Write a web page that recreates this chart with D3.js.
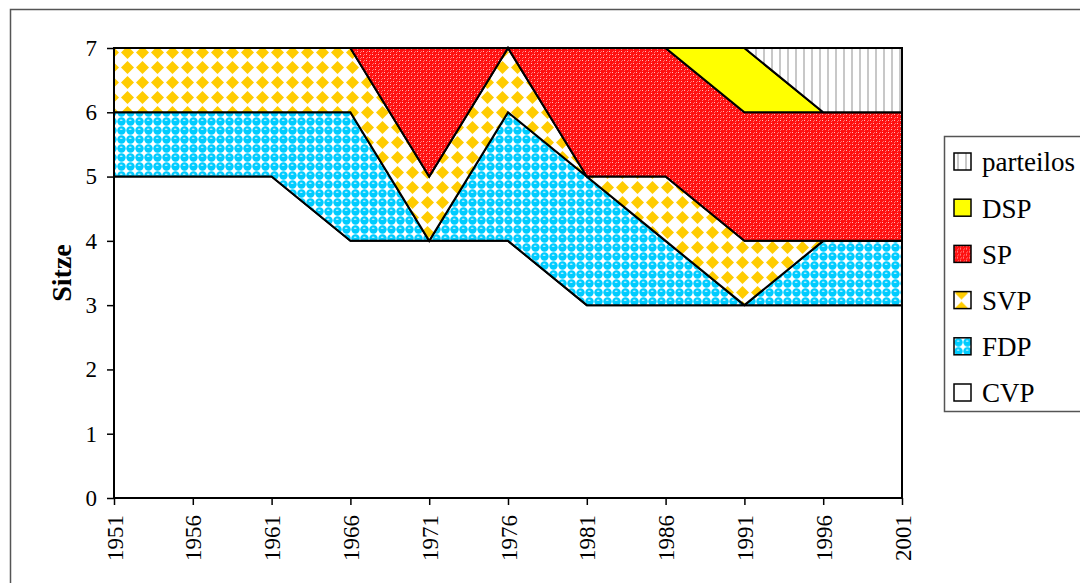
<!DOCTYPE html>
<html>
<head>
<meta charset="utf-8">
<script src="https://cdn.jsdelivr.net/npm/d3@7"></script>
<style>
  body { margin: 0; background: #fff; }
  svg { display: block; font-family: "Liberation Serif", "Times New Roman", serif; }
</style>
</head>
<body>
<script>
// election years and seats per party (Sitze)
var years = [1951, 1956, 1961, 1966, 1971, 1976, 1981, 1986, 1991, 1996, 2001];
var cvp = [5, 5, 5, 4, 4, 4, 3, 3, 3, 3, 3];
var fdp = [1, 1, 1, 2, 0, 2, 2, 1, 0, 1, 1];
var svp = [1, 1, 1, 1, 1, 1, 0, 1, 1, 0, 0];
var sp = [0, 0, 0, 0, 2, 0, 2, 2, 2, 2, 2];
var dsp = [0, 0, 0, 0, 0, 0, 0, 0, 1, 0, 0];
var parteilos = [0, 0, 0, 0, 0, 0, 0, 0, 0, 1, 1];
var keys = ["CVP", "FDP", "SVP", "SP", "DSP", "parteilos"];
var yTicks = [0, 1, 2, 3, 4, 5, 6, 7];

window.onload = drawChart();

function drawChart(){
    var width = 1080, height = 583;
    var left = 114, right = 902, top = 48, bottom = 498;

    var svg = d3.select("body").append("svg")
        .attr("width", width)
        .attr("height", height);

    // fill patterns
    var defs = svg.append("defs");

    // SVP: orange diamonds
    var pSvp = defs.append("pattern").attr("id", "pSvp")
        .attr("patternUnits", "userSpaceOnUse")
        .attr("width", 15).attr("height", 15);
    pSvp.append("rect").attr("width", 15).attr("height", 15).attr("fill", "#fff");
    pSvp.append("path").attr("d", "M7.5,1 L14,7.5 L7.5,14 L1,7.5Z").attr("fill", "#ffcc00");

    // FDP: cyan bubbles
    var pFdp = defs.append("pattern").attr("id", "pFdp")
        .attr("patternUnits", "userSpaceOnUse")
        .attr("width", 9).attr("height", 9);
    pFdp.append("rect").attr("width", 9).attr("height", 9).attr("fill", "#fff");
    pFdp.append("circle").attr("cx", 4.5).attr("cy", 4.5).attr("r", 4.2).attr("fill", "#00ccff");
    pFdp.append("ellipse").attr("cx", 4.2).attr("cy", 3.3).attr("rx", 1.5).attr("ry", 0.8).attr("fill", "#bff0ff");

    // SP: fine red check
    var pSp = defs.append("pattern").attr("id", "pSp")
        .attr("patternUnits", "userSpaceOnUse")
        .attr("width", 6).attr("height", 6);
    pSp.append("rect").attr("width", 6).attr("height", 6).attr("fill", "#ff1010");
    pSp.append("rect").attr("x", 0).attr("y", 0).attr("width", 1).attr("height", 1).attr("fill", "#ffc0c0");
    pSp.append("rect").attr("x", 3).attr("y", 3).attr("width", 1).attr("height", 1).attr("fill", "#ffc0c0");
    pSp.append("rect").attr("x", 1).attr("y", 3).attr("width", 1).attr("height", 1).attr("fill", "#ff7070");
    pSp.append("rect").attr("x", 4).attr("y", 0).attr("width", 1).attr("height", 1).attr("fill", "#ff7070");
    pSp.append("rect").attr("x", 3).attr("y", 1).attr("width", 1).attr("height", 1).attr("fill", "#ff7070");
    pSp.append("rect").attr("x", 0).attr("y", 4).attr("width", 1).attr("height", 1).attr("fill", "#ff7070");

    // parteilos: grey vertical stripes
    var pPl = defs.append("pattern").attr("id", "pPl")
        .attr("patternUnits", "userSpaceOnUse")
        .attr("width", 8).attr("height", 8);
    pPl.append("rect").attr("width", 8).attr("height", 8).attr("fill", "#fff");
    pPl.append("rect").attr("x", 3).attr("width", 2).attr("height", 8).attr("fill", "#c8c8c8");

    var fills = {
        CVP: "#fff",
        FDP: "url(#pFdp)",
        SVP: "url(#pSvp)",
        SP: "url(#pSp)",
        DSP: "#ffff00",
        parteilos: "url(#pPl)"
    };

    // outer chart frame
    svg.append("rect")
        .attr("x", 10.5).attr("y", 9.5)
        .attr("width", 1100).attr("height", 600)
        .attr("fill", "none").attr("stroke", "#555").attr("stroke-width", 1.5);

    // table for stacking
    var table = years.map(function(y, i){
        return {year: y, CVP: cvp[i], FDP: fdp[i], SVP: svp[i], SP: sp[i], DSP: dsp[i], parteilos: parteilos[i]};
    });
    var series = d3.stack().keys(keys)(table);

    var x = d3.scaleLinear().domain([1951, 2001]).range([left, right]);
    var y = d3.scaleLinear().domain([0, 7]).range([bottom, top]);

    var area = d3.area()
        .x(function(d){ return x(d.data.year); })
        .y0(function(d){ return y(d[0]); })
        .y1(function(d){ return y(d[1]); });

    svg.selectAll(".layer")
        .data(series)
        .enter()
        .append("path")
        .attr("class", "layer")
        .attr("d", area)
        .attr("fill", function(d){ return fills[d.key]; })
        .attr("stroke", "#000")
        .attr("stroke-width", 2)
        .attr("stroke-linejoin", "miter");

    // plot border
    svg.append("rect")
        .attr("x", left).attr("y", top)
        .attr("width", right - left).attr("height", bottom - top)
        .attr("fill", "none").attr("stroke", "#000").attr("stroke-width", 2);

    // y axis
    var yAxis = svg.append("g")
        .attr("transform", "translate(" + left + ",0)")
        .call(d3.axisLeft(y).tickValues(yTicks).tickSize(7).tickPadding(10).tickFormat(d3.format("d")));
    yAxis.select(".domain").remove();
    yAxis.selectAll("line").attr("stroke", "#000").attr("stroke-width", 1.5);
    yAxis.selectAll("text").attr("font-size", 23).attr("fill", "#000")
        .attr("font-family", "Liberation Serif");

    // x axis
    var xAxis = svg.append("g")
        .attr("transform", "translate(0," + bottom + ")")
        .call(d3.axisBottom(x).tickValues(years).tickSize(7).tickFormat(d3.format("d")));
    xAxis.select(".domain").remove();
    xAxis.selectAll("line").attr("stroke", "#000").attr("stroke-width", 1.5);
    xAxis.selectAll("text")
        .attr("font-size", 23).attr("fill", "#000")
        .attr("font-family", "Liberation Serif")
        .attr("transform", "rotate(-90)")
        .attr("text-anchor", "end")
        .attr("x", -17).attr("y", 0).attr("dy", "0.35em");

    // y axis title
    svg.append("text")
        .attr("transform", "translate(71,273) rotate(-90)")
        .attr("text-anchor", "middle")
        .attr("font-size", 28).attr("font-weight", "bold")
        .text("Sitze");

    // legend
    var legend = svg.append("g");
    legend.append("rect")
        .attr("x", 944.5).attr("y", 136.5)
        .attr("width", 200).attr("height", 275)
        .attr("fill", "#fff").attr("stroke", "#555").attr("stroke-width", 1.5);

    var legendKeys = keys.slice().reverse();
    var item = legend.selectAll(".item")
        .data(legendKeys)
        .enter()
        .append("g")
        .attr("class", "item")
        .attr("transform", function(d, i){ return "translate(954," + (162 + i * 46.2) + ")"; });
    item.append("rect")
        .attr("x", 0).attr("y", -9)
        .attr("width", 17).attr("height", 17)
        .attr("fill", function(d){ return fills[d]; })
        .attr("stroke", "#000").attr("stroke-width", 1.5);
    item.append("text")
        .attr("x", 28).attr("y", 0).attr("dy", "0.35em")
        .attr("font-size", 27)
        .text(function(d){ return d; });
}
</script>
</body>
</html>
